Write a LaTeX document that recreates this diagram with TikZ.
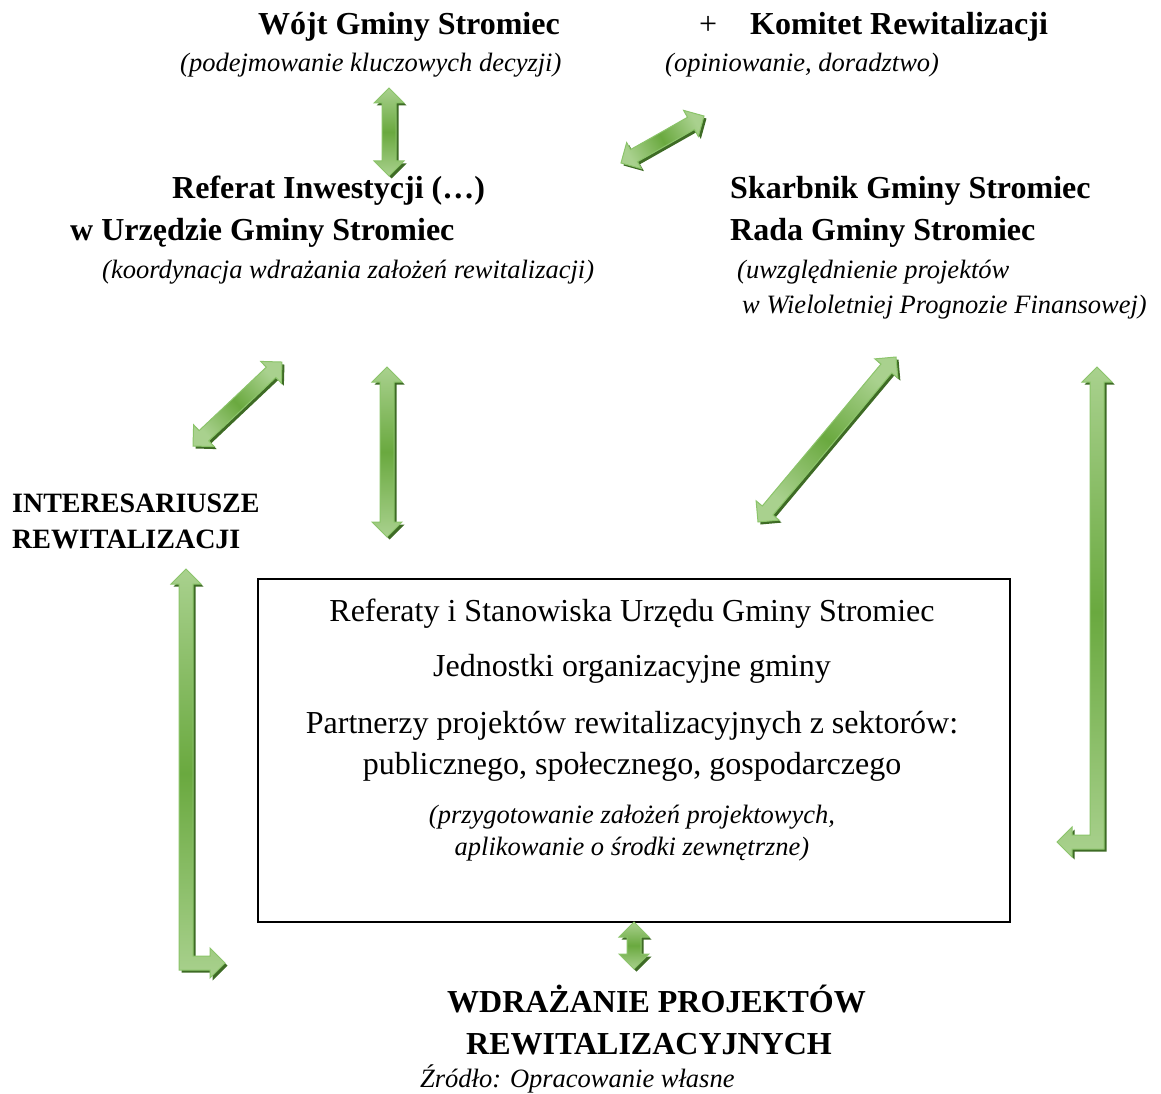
\documentclass[tikz,border=0pt]{standalone}
\usepackage{fontspec}
\setmainfont{Liberation Serif}
\usetikzlibrary{calc}
\definecolor{agreen}{HTML}{6AA93F}
\definecolor{alight}{HTML}{A9D18E}
\definecolor{aborder}{HTML}{8BC46A}
\definecolor{ashadow}{HTML}{3E6B25}
\tikzset{
 arrbody/.style={draw=aborder, line width=1pt, line join=miter},
 bt/.style={font=\fontsize{32}{38}\selectfont\bfseries, inner sep=0pt, anchor=base west},
 it/.style={font=\fontsize{26.5}{32}\selectfont\itshape, inner sep=0pt, anchor=base west},
 rt/.style={font=\fontsize{32}{38}\selectfont, inner sep=0pt, anchor=base},
 rit/.style={font=\fontsize{26.5}{32}\selectfont\itshape, inner sep=0pt, anchor=base},
 st/.style={font=\fontsize{28}{34}\selectfont\bfseries, inner sep=0pt, anchor=base west},
}
\newcommand\arrpath{(0,0) -- (15pt,15pt) -- (15pt,7pt) -- ({\arrlen pt-15pt},7pt) -- ({\arrlen pt-15pt},15pt) -- ({\arrlen pt},0pt) -- ({\arrlen pt-15pt},-15pt) -- ({\arrlen pt-15pt},-7pt) -- (15pt,-7pt) -- (15pt,-15pt) -- cycle}
\newcommand\dblarrow[2]{%
 \pgfmathanglebetweenpoints{\pgfpointanchor{#1}{center}}{\pgfpointanchor{#2}{center}}%
 \let\arrang\pgfmathresult
 \pgfpointdiff{\pgfpointanchor{#1}{center}}{\pgfpointanchor{#2}{center}}%
 \pgfgetlastxy{\arrdx}{\arrdy}%
 \pgfmathveclen{\arrdx}{\arrdy}\let\arrlen\pgfmathresult
 \pgfmathsetmacro\shang{\arrang+90}%
 \begin{scope}[shift={(#1)},xshift=2.5pt,yshift=-2.5pt,rotate=\arrang]
  \fill[ashadow] \arrpath;
 \end{scope}
 \begin{scope}[shift={(#1)},rotate=\arrang]
  \path[arrbody, top color=alight, bottom color=alight, middle color=agreen, shading angle=\shang] \arrpath;
 \end{scope}}
\begin{document}
\begin{tikzpicture}[x=1pt,y=-1pt]
\useasboundingbox (0,0) rectangle (1161,1094);
% texts
\node[bt] (wojt) at (258,35) {Wójt Gminy Stromiec};
\node[it] (wojtd) at (180,72) {(podejmowanie kluczowych decyzji)};
\node[font=\fontsize{32}{38}\selectfont, inner sep=0pt, anchor=base west] (plus) at (699,35) {+};
\node[bt] (komitet) at (750,35) {Komitet Rewitalizacji};
\node[it] (komd) at (665,72) {(opiniowanie, doradztwo)};
\node[bt] (ref1) at (172,198) {Referat Inwestycji (…)};
\node[bt] (ref2) at (70,240) {w Urzędzie Gminy Stromiec};
\node[it] (refd) at (102,278) {(koordynacja wdrażania założeń rewitalizacji)};
\node[bt] (skarb) at (730,198) {Skarbnik Gminy Stromiec};
\node[bt] (rada) at (730,240) {Rada Gminy Stromiec};
\node[it] (radad1) at (737,278) {(uwzględnienie projektów};
\node[it] (radad2) at (742,313) {w Wieloletniej Prognozie Finansowej)};
\node[st] (inter1) at (12,512) {INTERESARIUSZE};
\node[st] (inter2) at (12,548) {REWITALIZACJI};
\node[draw, line width=2pt, minimum width=752pt, minimum height=343pt, anchor=north west, inner sep=0pt] (box) at (257,578) {};
\node[rt] (b1) at (632,621) {Referaty i Stanowiska Urzędu Gminy Stromiec};
\node[rt] (b2) at (632,676) {Jednostki organizacyjne gminy};
\node[rt] (b3) at (632,733) {Partnerzy projektów rewitalizacyjnych z sektorów:};
\node[rt] (b4) at (632,774) {publicznego, społecznego, gospodarczego};
\node[rit] (b5) at (632,823) {(przygotowanie założeń projektowych,};
\node[rit] (b6) at (632,855) {aplikowanie o środki zewnętrzne)};
\node[bt] (wdr1) at (447,1012) {WDRAŻANIE PROJEKTÓW};
\node[bt] (wdr2) at (466,1054) {REWITALIZACYJNYCH};
\node[it] (src) at (420,1087) {Źródło: Opracowanie własne};
% arrow end points
\coordinate (a1s) at (389,176); \coordinate (a1e) at (389,88);
\coordinate (a2s) at (621,163); \coordinate (a2e) at (704,116);
\coordinate (a3s) at (193,446); \coordinate (a3e) at (282,362);
\coordinate (a4s) at (387,537); \coordinate (a4e) at (387,367);
\coordinate (a5s) at (758,522); \coordinate (a5e) at (896,357);
\coordinate (a6s) at (634,969); \coordinate (a6e) at (634,922);
\dblarrow{a1s}{a1e}
\dblarrow{a2s}{a2e}
\dblarrow{a3s}{a3e}
\dblarrow{a4s}{a4e}
\dblarrow{a5s}{a5e}
\dblarrow{a6s}{a6e}
% L-shaped arrows
\coordinate (rcorner) at (1097,842);
\coordinate (lcorner) at (186,963);
\begin{scope}[shift={(rcorner)},xshift=2.5pt,yshift=-2.5pt]
 \fill[ashadow] (0,-475) -- (15,-460) -- (7,-460) -- (7,7) -- (-25,7) -- (-25,15) -- (-40,0) -- (-25,-15) -- (-25,-7) -- (-7,-7) -- (-7,-460) -- (-15,-460) -- cycle;
\end{scope}
\begin{scope}[shift={(rcorner)}]
 \path[arrbody, top color=alight, bottom color=alight, middle color=agreen] (0,-475) -- (15,-460) -- (7,-460) -- (7,7) -- (-25,7) -- (-25,15) -- (-40,0) -- (-25,-15) -- (-25,-7) -- (-7,-7) -- (-7,-460) -- (-15,-460) -- cycle;
\end{scope}
\begin{scope}[shift={(lcorner)},xshift=2.5pt,yshift=-2.5pt]
 \fill[ashadow] (0,-394) -- (15,-379) -- (7,-379) -- (7,-7) -- (24,-7) -- (24,-15) -- (39,0) -- (24,15) -- (24,7) -- (-7,7) -- (-7,-379) -- (-15,-379) -- cycle;
\end{scope}
\begin{scope}[shift={(lcorner)}]
 \path[arrbody, top color=alight, bottom color=alight, middle color=agreen] (0,-394) -- (15,-379) -- (7,-379) -- (7,-7) -- (24,-7) -- (24,-15) -- (39,0) -- (24,15) -- (24,7) -- (-7,7) -- (-7,-379) -- (-15,-379) -- cycle;
\end{scope}
\end{tikzpicture}
\end{document}
